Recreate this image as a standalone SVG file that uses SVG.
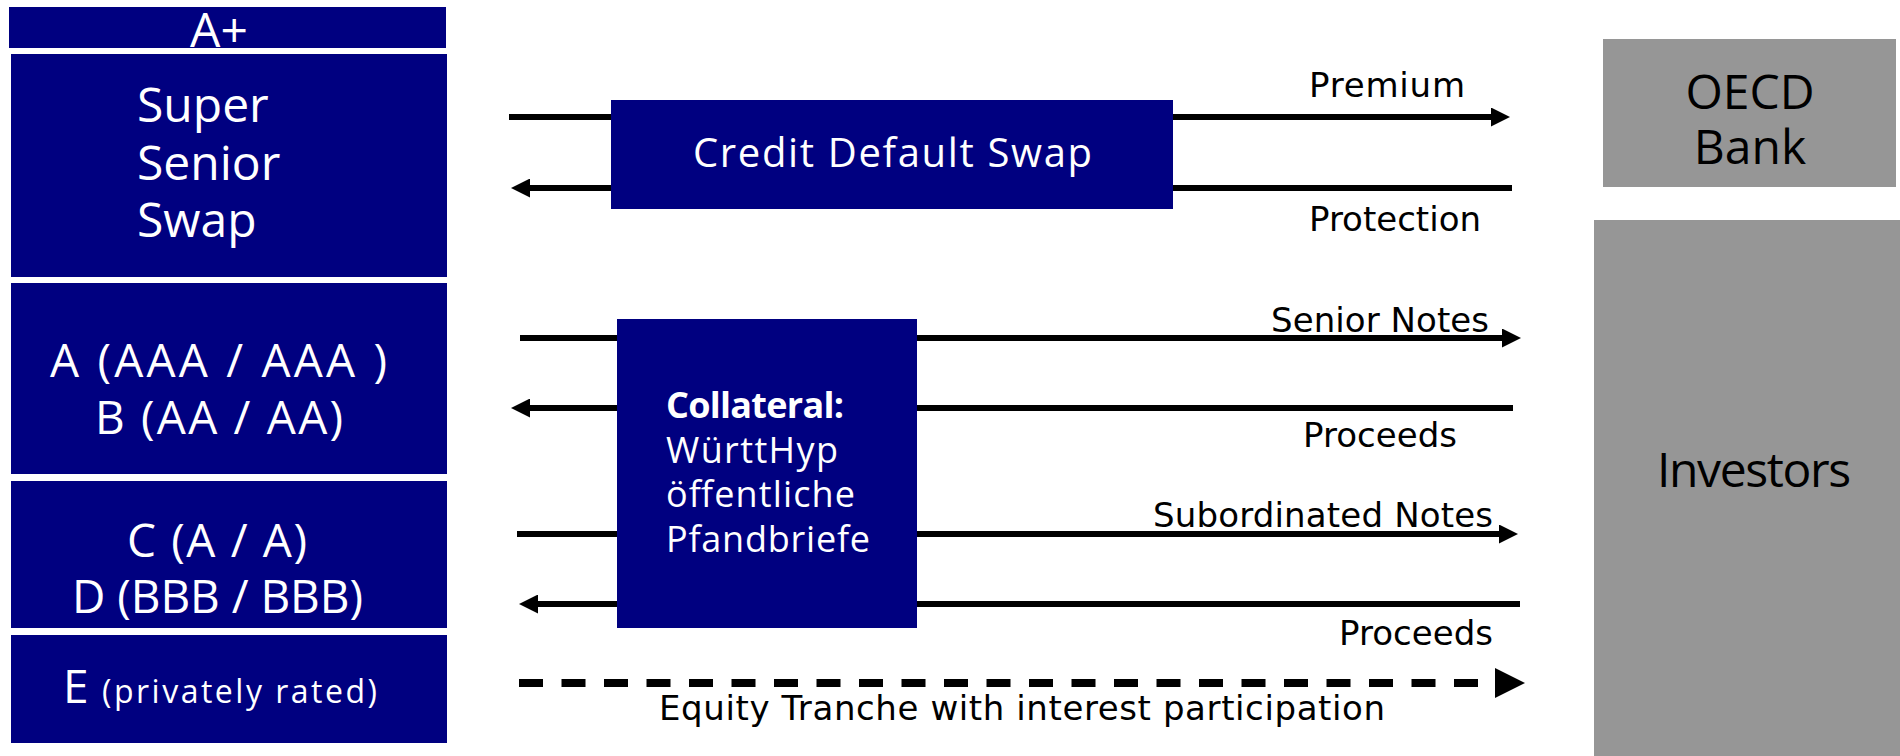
<svg xmlns="http://www.w3.org/2000/svg" width="1900" height="756" viewBox="0 0 1900 756">
  <style>
    .navy { fill: #000080; }
    .grey { fill: #969696; }
    .wt { fill: #ffffff; font-family: "Open Sans", "DejaVu Sans", sans-serif; }
    .dk { fill: #000000; font-family: "Open Sans", "DejaVu Sans", sans-serif; }
    .lbl { fill: #000000; font-family: "DejaVu Sans", "Liberation Sans", sans-serif; font-size: 34px; }
    .flow { fill: none; stroke: #000000; stroke-width: 6; }
    .dash { fill: none; stroke: #000000; stroke-width: 8; stroke-dasharray: 24 18.5; }
  </style>
  <defs>
    <marker id="head" markerUnits="userSpaceOnUse" viewBox="0 0 19 19" refX="0" refY="9.5" markerWidth="19" markerHeight="19" orient="auto">
      <polygon points="0,0 19,9.5 0,19" fill="#000000"/>
    </marker>
    <marker id="headBig" markerUnits="userSpaceOnUse" viewBox="0 0 30 30" refX="0" refY="15" markerWidth="30" markerHeight="30" orient="auto">
      <polygon points="0,0 30,15 0,30" fill="#000000"/>
    </marker>
  </defs>

  <rect width="1900" height="756" fill="#ffffff"/>

  <!-- flows between the vehicle and the counterparties -->
  <g id="connectors">
    <path class="flow" d="M509 117 H1491" marker-end="url(#head)"/>
    <path class="flow" d="M1512 188 H530" marker-end="url(#head)"/>
    <path class="flow" d="M520 338 H1502" marker-end="url(#head)"/>
    <path class="flow" d="M1513 408 H530" marker-end="url(#head)"/>
    <path class="flow" d="M517 534 H1499" marker-end="url(#head)"/>
    <path class="flow" d="M1520 604 H538" marker-end="url(#head)"/>
    <path class="dash" d="M519 683 H1495" marker-end="url(#headBig)"/>
    <text class="lbl" x="1309" y="97" textLength="156">Premium</text>
    <text class="lbl" x="1309" y="231" textLength="172">Protection</text>
    <text class="lbl" x="1271" y="332" textLength="218">Senior Notes</text>
    <text class="lbl" x="1303" y="447" textLength="154">Proceeds</text>
    <text class="lbl" x="1153" y="527" textLength="340">Subordinated Notes</text>
    <text class="lbl" x="1339" y="645" textLength="154">Proceeds</text>
    <text class="lbl" x="659" y="720" textLength="726">Equity Tranche with interest participation</text>
  </g>

  <!-- tranche stack -->
  <g id="tranche-aplus">
    <rect class="navy" x="9" y="7" width="437" height="41"/>
    <text class="wt" x="219" y="47" font-size="48" text-anchor="middle">A+</text>
  </g>
  <g id="tranche-super-senior">
    <rect class="navy" x="11" y="54" width="436" height="223"/>
    <text class="wt" x="137" y="122" font-size="48">Super</text>
    <text class="wt" x="137" y="180" font-size="48">Senior</text>
    <text class="wt" x="137" y="237" font-size="48">Swap</text>
  </g>
  <g id="tranche-ab">
    <rect class="navy" x="11" y="283" width="436" height="191"/>
    <text class="wt" x="50" y="377" font-size="46" textLength="337">A (AAA / AAA )</text>
    <text class="wt" x="95" y="434" font-size="46" textLength="248">B (AA / AA)</text>
  </g>
  <g id="tranche-cd">
    <rect class="navy" x="11" y="481" width="436" height="147"/>
    <text class="wt" x="127" y="557" font-size="46" textLength="180">C (A / A)</text>
    <text class="wt" x="72" y="613" font-size="46" textLength="291">D (BBB / BBB)</text>
  </g>
  <g id="tranche-e">
    <rect class="navy" x="11" y="635" width="436" height="108"/>
    <text class="wt" x="63" y="703" font-size="46">E</text>
    <text class="wt" x="102" y="703" font-size="32" textLength="275">(privately rated)</text>
  </g>

  <!-- swap and collateral -->
  <g id="cds">
    <rect class="navy" x="611" y="100" width="562" height="109"/>
    <text class="wt" x="693" y="167" font-size="40" textLength="399">Credit Default Swap</text>
  </g>
  <g id="collateral">
    <rect class="navy" x="617" y="319" width="300" height="309"/>
    <text class="wt" x="666" y="418" font-size="36" font-weight="bold" textLength="178">Collateral:</text>
    <text class="wt" x="666" y="463" font-size="36" textLength="172">WürttHyp</text>
    <text class="wt" x="666" y="507" font-size="36" textLength="189">öffentliche</text>
    <text class="wt" x="666" y="552" font-size="36" textLength="204">Pfandbriefe</text>
  </g>

  <!-- counterparties -->
  <g id="oecd-bank">
    <rect class="grey" x="1603" y="39" width="293" height="148"/>
    <text class="dk" x="1750" y="109" font-size="48" text-anchor="middle">OECD</text>
    <text class="dk" x="1750" y="164" font-size="48" text-anchor="middle">Bank</text>
  </g>
  <g id="investors">
    <rect class="grey" x="1594" y="220" width="306" height="536"/>
    <text class="dk" x="1657" y="487" font-size="48" textLength="194">Investors</text>
  </g>
</svg>
